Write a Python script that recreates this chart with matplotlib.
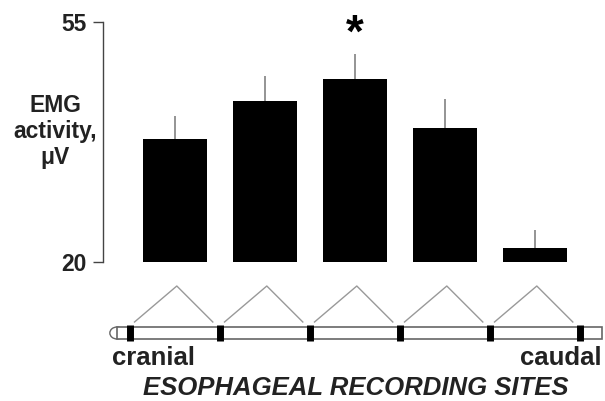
import numpy as np
import matplotlib
matplotlib.use("Agg")
import matplotlib.pyplot as plt
from matplotlib.patches import Rectangle, Ellipse

plt.rcParams['font.family'] = ['Liberation Sans', 'DejaVu Sans']
plt.rcParams['font.weight'] = 'bold'

# ---- data ----
sites = np.arange(5)                       # recording sites, cranial -> caudal
emg_mean = [37.9, 43.5, 46.7, 39.5, 22.0]  # EMG activity, uV
emg_sem = [3.4, 3.6, 3.7, 4.3, 2.7]
signif = [False, False, True, False, False]
y_ticks = [20, 55]

fig = plt.figure(figsize=(6.05, 4.01), dpi=100)

# ---- bars ----
ax = fig.add_axes([0.1702, 0.3466, 0.8215, 0.5985])
ax.bar(sites, emg_mean, width=0.71, bottom=0, color='black', zorder=3)
ax.errorbar(sites, emg_mean, yerr=[np.zeros(5), emg_sem], fmt='none',
            ecolor='#777777', elinewidth=1.1, capsize=0, zorder=2)
for x, m, s, star in zip(sites, emg_mean, emg_sem, signif):
    if star:
        ax.text(x, m + s - 0.5, '*', ha='center', va='bottom',
                fontsize=33, fontweight='bold')

ax.set_ylim(20, 55)
ax.set_xlim(-0.8, 4.72)
ax.set_yticks(y_ticks)
ax.set_yticklabels([str(v) for v in y_ticks], fontsize=16.5, fontweight='bold',
                   color='#222222')
ax.tick_params(axis='y', direction='out', length=7, width=1, color='#444444', pad=5)
ax.set_xticks([])
for side in ['top', 'right', 'bottom']:
    ax.spines[side].set_visible(False)
ax.spines['left'].set_color('#444444')
ax.spines['left'].set_linewidth(1)
ax.set_ylabel('EMG\nactivity,\nμV', rotation=0, fontsize=16.5, color='#222222',
              fontweight='bold', ha='center', va='center', linespacing=1.15)
ax.yaxis.set_label_coords(-0.0966, 0.544)

# ---- catheter schematic below the bars (same x scale as bars) ----
sch = fig.add_axes([0, 0, 1, 1], zorder=-1)
sch.set_xlim(-175 / 90, (605 - 175) / 90)
sch.set_ylim(401, 0)
sch.axis('off')

# bipolar pairs: a triangle joining neighbouring electrodes
for x in sites:
    sch.plot([x - 0.45, x + 0.02, x + 0.42], [322, 286, 322],
             color='#999999', lw=1)

# tube
sch.add_patch(Ellipse((-0.644, 333), 0.16, 12, facecolor='white',
                      edgecolor='#666666', lw=1, zorder=1))
sch.add_patch(Rectangle((-0.644, 327), 4.744 + 0.644, 12, facecolor='white',
                        edgecolor='#666666', lw=1.2, zorder=2))
# electrodes
electrodes = np.arange(6) - 0.5
for e in electrodes:
    sch.plot([e, e], [325, 341], color='black', lw=5, zorder=3,
             solid_capstyle='butt')

fig.text(112 / 605, 1 - 358 / 401, 'cranial', ha='left', va='center',
         fontsize=18.5, fontweight='bold', color='#222222')
fig.text(602 / 605, 1 - 358 / 401, 'caudal', ha='right', va='center',
         fontsize=18.5, fontweight='bold', color='#222222')
fig.text(356 / 605, 1 - 388 / 401, 'ESOPHAGEAL RECORDING SITES', ha='center',
         va='center', fontsize=18.5, fontweight='bold', fontstyle='italic',
         color='#222222')

fig.savefig('out.png', dpi=100)
